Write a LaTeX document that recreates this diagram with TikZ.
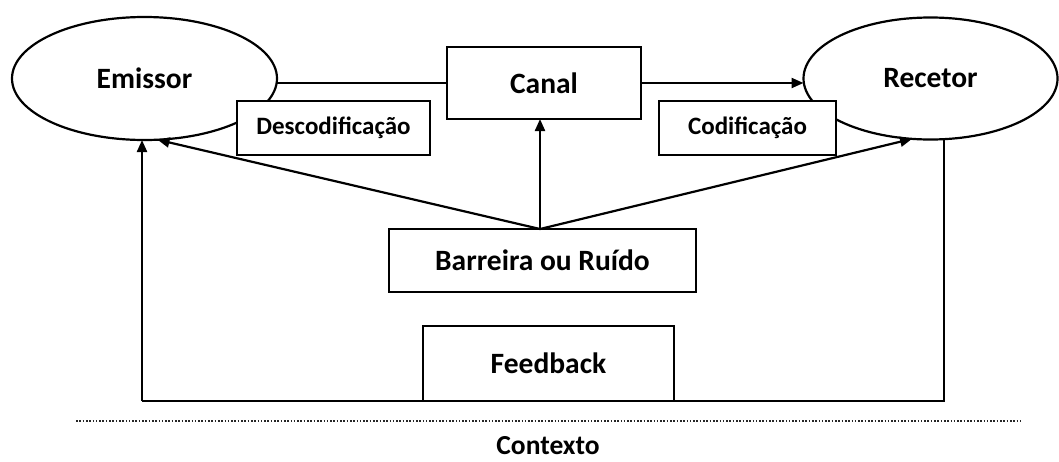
\documentclass[tikz,border=0pt]{standalone}
\usepackage{fontspec}
\setmainfont{Carlito}
\usetikzlibrary{shapes.geometric,arrows.meta}

\tikzset{
  line/.style={line width=2.2pt, draw=black},
  arr/.style={line, -{Triangle[length=12pt,width=10pt]}},
  oval/.style={ellipse, line, fill=white, inner sep=0pt, outer sep=0pt,
    font=\fontsize{29.5}{33}\selectfont\bfseries},
  bigbox/.style={rectangle, line, fill=white, inner sep=0pt, outer sep=0pt,
    font=\fontsize{29.5}{33}\selectfont\bfseries},
  smallbox/.style={rectangle, line, fill=white, inner sep=0pt, outer sep=0pt,
    font=\fontsize{25}{29}\selectfont\bfseries},
}

\begin{document}
\begin{tikzpicture}[x=1pt, y=-1pt]
  \useasboundingbox (0,0) rectangle (1059,461);

  % the two parties of the communication
  \node[oval, minimum width=265pt, minimum height=123pt] (emissor) at (144.5,78.5) {Emissor};
  \node[oval, minimum width=254pt, minimum height=122pt] (recetor) at (930.5,78.5) {Recetor};

  % channel and coding boxes
  \node[bigbox, minimum width=194pt, minimum height=72pt] (canal) at (544,83) {Canal};
  \node[smallbox, minimum width=193pt, minimum height=54pt] (desc) at (333.5,128) {Descodificação};
  \node[smallbox, minimum width=177pt, minimum height=54pt] (cod) at (747.5,128) {Codificação};

  % noise and feedback
  \node[bigbox, minimum width=307pt, minimum height=63pt] (ruido) at (542.5,260.5) {Barreira ou Ruído};
  \node[bigbox, minimum width=251pt, minimum height=75pt] (feedback) at (548.5,363.5) {Feedback};

  % context label
  \node[font=\fontsize{27.5}{31}\selectfont\bfseries, anchor=base, inner sep=0pt] (contexto) at (548,454) {Contexto};

  \coordinate (hub) at (540,229);
  \coordinate (fbL) at (142,401);
  \coordinate (fbR) at (944,401);
  \coordinate (ctxL) at (76,421);
  \coordinate (ctxR) at (1022,421);

  % message path
  \draw[line] (canal.west -| emissor.east) -- (canal.west);
  \draw[arr] (canal.east) -- (canal.east -| recetor.west);

  % noise acting on every element
  \draw[arr] (hub) -- (hub |- canal.south);
  \draw[arr] (hub) -- (emissor.282);
  \draw[arr] (hub) -- (recetor.253);

  % feedback loop
  \draw[line] (fbR |- recetor.south) -- (fbR) -- (fbL);
  \draw[arr] (fbL) -- (fbL |- emissor.south);

  % context separator
  \draw[line width=1.8pt, draw=black!85, dash pattern=on 1.6pt off 1.7pt] (ctxL) -- (ctxR);
\end{tikzpicture}
\end{document}
